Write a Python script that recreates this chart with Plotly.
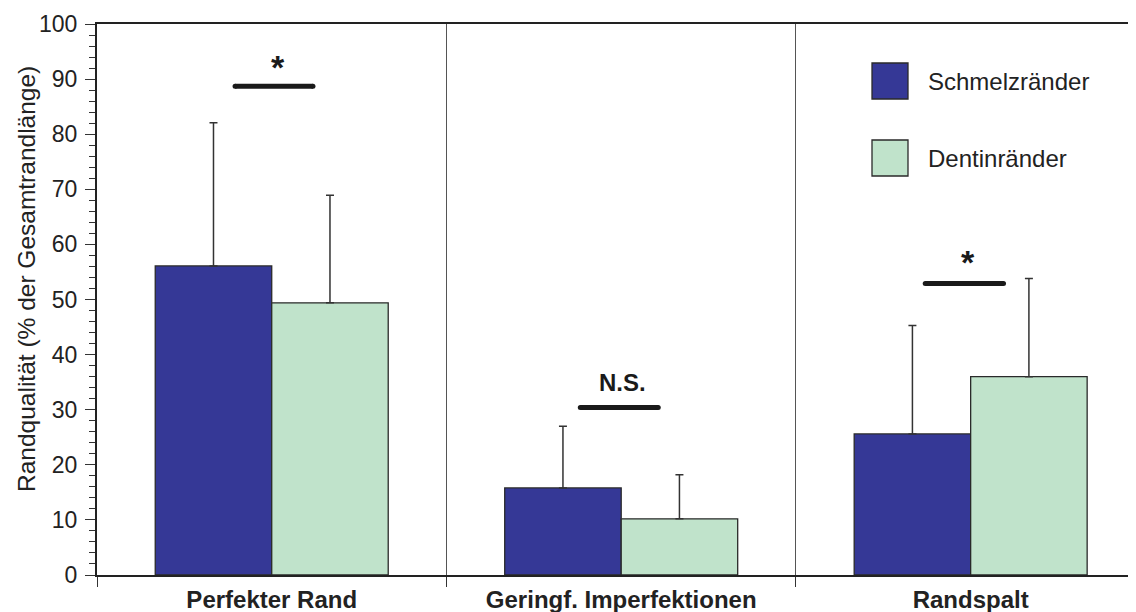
import plotly.graph_objects as go

categories = ["Perfekter Rand", "Geringf. Imperfektionen", "Randspalt"]
series_names = ["Schmelzränder", "Dentinränder"]
schmelz_mean = [56.1, 15.8, 25.6]
schmelz_sd = [26.0, 11.2, 19.7]
dentin_mean = [49.4, 10.2, 36.0]
dentin_sd = [19.5, 8.0, 17.8]

sig_labels = ["*", "N.S.", "*"]
sig_line_y = [88.7, 30.4, 52.9]
sig_text_y = [93.0, 34.9, 57.6]

y_ticks = [0, 10, 20, 30, 40, 50, 60, 70, 80, 90, 100]

col_s = "#353896"
col_d = "#C0E3CB"
edge = "#2a2a2a"
FONT = "Liberation Sans, Arial, sans-serif"

# page body has an 8px default margin; compensate so the plot area lands at x=97..1136, y=24..575
ML, MT, MB = 89, 16, 45
PW = 1136 - ML
PH = 612 - MT - MB

fig = go.Figure()
for name, vals, sds, col in [(series_names[0], schmelz_mean, schmelz_sd, col_s),
                             (series_names[1], dentin_mean, dentin_sd, col_d)]:
    fig.add_trace(go.Bar(
        x=categories, y=vals, name=name,
        marker=dict(color=col, line=dict(color=edge, width=1.3)),
        error_y=dict(type="data", array=sds, arrayminus=[0] * len(sds), symmetric=False,
                     color="#333333", thickness=1.5, width=4),
        showlegend=False,
    ))

shapes = []
annotations = []
offsets = [(-0.105, 0.118), (-0.117, 0.106), (-0.13, 0.094)]
for i, (lbl, ly, ty) in enumerate(zip(sig_labels, sig_line_y, sig_text_y)):
    x0 = i + offsets[i][0]
    x1 = i + offsets[i][1]
    shapes.append(dict(type="line", xref="x", yref="y", x0=x0, x1=x1, y0=ly, y1=ly,
                       line=dict(color="#1a1a1a", width=5)))
    for xe in (x0, x1):
        shapes.append(dict(type="circle", xref="x", yref="y", xsizemode="pixel", ysizemode="pixel",
                           xanchor=xe, yanchor=ly, x0=-2.5, x1=2.5, y0=-2.5, y1=2.5,
                           fillcolor="#1a1a1a", line=dict(width=0)))
    if lbl == "*":
        annotations.append(dict(x=(x0 + x1) / 2 + 0.01, y=ty, xref="x", yref="y", text="<b>*</b>",
                                showarrow=False, yshift=-4,
                                font=dict(family=FONT, size=34, color="#1a1a1a")))
    else:
        annotations.append(dict(x=(x0 + x1) / 2 + 0.01, y=ty, xref="x", yref="y", text="<b>%s</b>" % lbl,
                                showarrow=False, font=dict(family=FONT, size=24, color="#1a1a1a")))

def px_x(px):
    return (px - 8 - ML) / PW

def px_y(py):
    return (575 - py) / PH

leg_y = [81, 158]
for name, col, yc in zip(series_names, [col_s, col_d], leg_y):
    shapes.append(dict(type="rect", xref="paper", yref="paper",
                       x0=px_x(872), x1=px_x(908), y0=px_y(yc + 18), y1=px_y(yc - 18),
                       fillcolor=col, line=dict(color=edge, width=1.3)))
    annotations.append(dict(x=px_x(926), y=px_y(yc), xref="paper", yref="paper",
                            xanchor="left", yanchor="middle", text=name, showarrow=False,
                            font=dict(family=FONT, size=24, color="#222222")))

annotations.append(dict(x=px_x(26), y=px_y(279), xref="paper", yref="paper",
                        xanchor="center", yanchor="middle",
                        text="Randqualität (% der Gesamtrandlänge)", textangle=-90, showarrow=False,
                        font=dict(family=FONT, size=24.5, color="#222222")))

fig.update_layout(
    width=1136, height=612,
    margin=dict(l=ML, r=0, t=MT, b=MB, autoexpand=False),
    plot_bgcolor="white", paper_bgcolor="white",
    barmode="group", bargap=1 / 3, bargroupgap=0,
    shapes=shapes, annotations=annotations,
    showlegend=False,
    font=dict(family=FONT, color="#222222"),
)
fig.update_xaxes(
    type="category", range=[-0.5, 2.496], automargin=False,
    tickson="boundaries", ticks="outside", ticklen=10, tickcolor="#333333", tickwidth=1.3,
    showgrid=True, gridcolor="#555555", gridwidth=1,
    showline=True, linecolor="#222222", linewidth=2, mirror=True,
    tickfont=dict(family=FONT, size=24, color="#222222"),
    ticktext=["<b>%s</b>" % c for c in categories], tickvals=categories,
    ticklabelstandoff=2,
)
fig.update_yaxes(
    range=[0, 100], tickvals=y_ticks, ticks="outside", ticklen=10, tickcolor="#333333", tickwidth=1.3,
    minor=dict(dtick=2, ticks="outside", ticklen=6, tickcolor="#333333", tickwidth=1.3, showgrid=False),
    showgrid=False, zeroline=False, showline=True, linecolor="#222222", linewidth=2, automargin=False,
    tickfont=dict(family=FONT, size=23, color="#222222"), ticklabelstandoff=3,
)

fig.write_html("out.html")
